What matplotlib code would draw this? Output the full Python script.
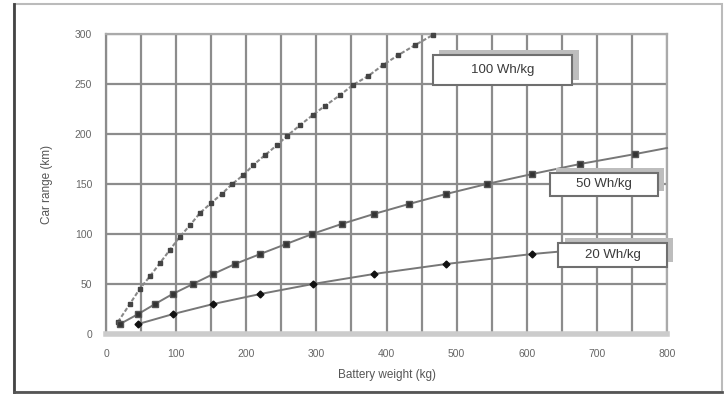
import matplotlib
matplotlib.use("Agg")
import matplotlib.pyplot as plt
from matplotlib.patches import Rectangle

# ---- data ----
w100 = [17, 34, 48, 63, 77, 91, 105, 120, 134, 150, 165, 180, 196, 210, 227, 244,
        258, 277, 295, 312, 334, 352, 374, 395, 417, 441, 466]
r100 = [12, 30, 45, 58, 71, 84, 97, 109, 121, 131, 140, 150, 159, 169, 179, 189,
        198, 209, 219, 228, 239, 249, 258, 269, 279, 289, 299]

w50 = [20, 46, 70, 95, 124, 153, 184, 220, 257, 294, 336, 382, 432, 485, 543, 608, 676, 755, 800]
r50 = [10, 20, 30, 40, 50, 60, 70, 80, 90, 100, 110, 120, 130, 140, 150, 160, 170, 180, 186]

w20 = [46, 96, 153, 220, 295, 382, 485, 608, 800]
r20 = [10, 20, 30, 40, 50, 60, 70, 80, 92]

labels = ["100 Wh/kg", "50 Wh/kg", "20 Wh/kg"]
# label boxes (x0, x1, y0, y1) in data units
label_boxes = [(466, 665, 249, 279), (633, 787, 138, 161), (645, 800, 67, 91)]

x_ticks = [0, 100, 200, 300, 400, 500, 600, 700, 800]
y_ticks = [0, 50, 100, 150, 200, 250, 300]

plt.rcParams["font.family"] = ["Liberation Sans", "DejaVu Sans"]

fig = plt.figure(figsize=(7.25, 3.96), dpi=100)
ax = fig.add_axes([106/725, 62/396, 561/725, 300/396])

# outer frame
fig.patches.append(Rectangle((14/725, 4/396), 708/725, 388/396, transform=fig.transFigure,
                             fill=False, edgecolor="#bbbbbb", linewidth=1.5, zorder=0))
fig.add_artist(plt.Line2D([14/725, 14/725], [4/396, 392/396], transform=fig.transFigure,
                          color="#444444", linewidth=2))
fig.add_artist(plt.Line2D([14/725, 722/725], [4/396, 4/396], transform=fig.transFigure,
                          color="#555555", linewidth=2))

ax.set_xlim(0, 800)
ax.set_ylim(0, 300)
ax.set_xticks(x_ticks)
ax.set_xticks(range(50, 801, 100), minor=True)
ax.set_yticks(y_ticks)
ax.grid(True, color="#8c8c8c", linewidth=1.6)
ax.grid(True, which="minor", axis="x", color="#8c8c8c", linewidth=1.6)
ax.set_axisbelow(True)
ax.tick_params(which="both", length=0, labelsize=7.5, colors="#666666")
ax.tick_params(axis="x", pad=11)
ax.tick_params(axis="y", pad=10)

for s in ["top", "right"]:
    ax.spines[s].set_color("#aaaaaa")
    ax.spines[s].set_linewidth(1.6)
ax.spines["left"].set_color("#8c8c8c")
ax.spines["left"].set_linewidth(1.6)
ax.spines["bottom"].set_color("#cccccc")
ax.spines["bottom"].set_linewidth(4)

ax.plot(w100, r100, color="#888888", linestyle=(0, (2, 1)), linewidth=1.5,
        marker="s", markersize=2.5, markerfacecolor="#444444", markeredgecolor="#444444",
        clip_on=False, zorder=3)
ax.plot(w50, r50, color="#777777", linewidth=1.4, marker="s", markersize=5,
        markerfacecolor="#333333", markeredgecolor="#555555",
        markevery=list(range(len(w50) - 1)), clip_on=False, zorder=3)
ax.plot(w20, r20, color="#777777", linewidth=1.4, marker="D", markersize=3.5,
        markerfacecolor="#111111", markeredgecolor="#111111",
        markevery=list(range(len(w20) - 1)), zorder=3)

for txt, (x0, x1, y0, y1) in zip(labels, label_boxes):
    ax.add_patch(Rectangle((x0 + 9, y0 + 5), x1 - x0, y1 - y0, facecolor="#bdbdbd",
                           edgecolor="none", zorder=4, clip_on=False))
    ax.add_patch(Rectangle((x0, y0), x1 - x0, y1 - y0, facecolor="white",
                           edgecolor="#6f6f6f", linewidth=1.5, zorder=5, clip_on=False))
    ax.text((x0 + x1) / 2, (y0 + y1) / 2, txt, ha="center", va="center", fontsize=9.5,
            color="#3a3a3a", zorder=6)

ax.set_xlabel("Battery weight (kg)", fontsize=8.5, color="#555555", labelpad=7)
ax.set_ylabel("Car range (km)", fontsize=8.5, color="#555555", labelpad=16)

fig.savefig("out.png", dpi=100)
